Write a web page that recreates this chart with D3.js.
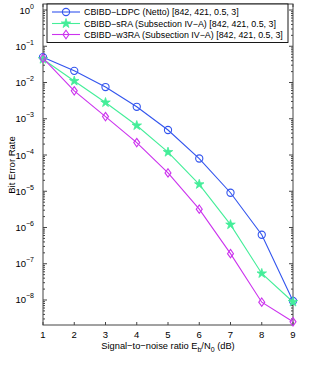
<!DOCTYPE html>
<html><head><meta charset="utf-8">
<script src="https://cdn.jsdelivr.net/npm/d3@7"></script>
<style>body{margin:0;background:#fff}svg{display:block}text{font-family:"Liberation Sans",Arial,sans-serif;fill:#000}</style>
</head><body><svg id="c" width="324" height="370"></svg>
<script>
const snr = [1,2,3,4,5,6,7,8,9];
const berLDPC = [0.050,0.021,0.0075,0.00214,4.9e-4,8.0e-5,9.1e-6,6.3e-7,9.4e-9];
const berSRA  = [0.044,0.011,0.0028,6.5e-4,1.2e-4,1.55e-5,1.2e-6,5.4e-8,8.8e-9];
const berW3RA = [0.047,0.0059,0.00115,2.2e-4,3.2e-5,3.2e-6,1.9e-7,8.7e-9,2.5e-9];
const seriesNames = ["CBIBD\u2212LDPC (Netto) [842, 421, 0.5, 3]","CBIBD\u2212sRA (Subsection IV\u2212A) [842, 421, 0.5, 3]","CBIBD\u2212w3RA (Subsection IV\u2212A) [842, 421, 0.5, 3]"];
const xTicks = [1,2,3,4,5,6,7,8,9];
const yTickExps = [0,-1,-2,-3,-4,-5,-6,-7,-8];

const svg = d3.select("#c");
const L=43, R=293, T=4, B=325;
const x = d3.scaleLinear().domain([1,9]).range([L,R]);
const y = d3.scaleLog().domain([Math.pow(10,-8.69), Math.pow(10,0.166)]).range([B,T]);
const axisCol = "#444";

svg.append("rect").attr("x",L).attr("y",T).attr("width",R-L).attr("height",B-T).attr("fill","none").attr("stroke",axisCol).attr("stroke-width",1);

xTicks.forEach(v=>{
  svg.append("line").attr("x1",x(v)).attr("x2",x(v)).attr("y1",B).attr("y2",B-3).attr("stroke",axisCol);
  svg.append("line").attr("x1",x(v)).attr("x2",x(v)).attr("y1",T).attr("y2",T+3).attr("stroke",axisCol);
  svg.append("text").attr("x",x(v)).attr("y",B+13).attr("text-anchor","middle").attr("font-size","9.5px").text(v);
});
const [ymin,ymax]=y.domain();
for(let e=-9;e<=0;e++){
  for(let m=1;m<=9;m++){
    const v=m*Math.pow(10,e);
    if(v<ymin||v>ymax) continue;
    const len = m===1?4:2;
    svg.append("line").attr("x1",L).attr("x2",L+len).attr("y1",y(v)).attr("y2",y(v)).attr("stroke",axisCol);
    svg.append("line").attr("x1",R).attr("x2",R-len).attr("y1",y(v)).attr("y2",y(v)).attr("stroke",axisCol);
  }
}
yTickExps.forEach(e=>{
  const t = svg.append("text").attr("x",34).attr("y",y(Math.pow(10,e))+3.5).attr("text-anchor","end").attr("font-size","9.5px");
  t.append("tspan").text("10");
  t.append("tspan").attr("dy",-5).attr("font-size","7px").text(e===0?"0":"\u2212"+(-e));
});
const xl = svg.append("text").attr("x",168).attr("y",349).attr("text-anchor","middle").attr("font-size","9.3px");
xl.append("tspan").text("Signal\u2212to\u2212noise ratio E");
xl.append("tspan").attr("dy",3).attr("font-size","7px").text("b");
xl.append("tspan").attr("dy",-3).text("/N");
xl.append("tspan").attr("dy",3).attr("font-size","7px").text("0");
xl.append("tspan").attr("dy",-3).text(" (dB)");
svg.append("text").attr("transform","translate(15,165) rotate(-90)").attr("text-anchor","middle").attr("font-size","9.5px").text("Bit Error Rate");

const colors=["#3355ee","#44ee99","#cc33ee"];
const data=[berLDPC,berSRA,berW3RA];
const star = d3.symbol().type(d3.symbolStar).size(28);
function marker(g,k,cx,cy,col){
  if(k===0) g.append("circle").attr("cx",cx).attr("cy",cy).attr("r",3.6).attr("fill","none").attr("stroke",col).attr("stroke-width",1.1);
  else if(k===1) g.append("path").attr("d",star).attr("transform",`translate(${cx},${cy})`).attr("fill",col).attr("stroke",col).attr("stroke-width",0.8);
  else g.append("path").attr("d",`M${cx},${cy-4.2}L${cx+3},${cy}L${cx},${cy+4.2}L${cx-3},${cy}Z`).attr("fill","none").attr("stroke",col).attr("stroke-width",1.1);
}
const line = d3.line().x((d,i)=>x(snr[i])).y(d=>y(d));
data.forEach((arr,k)=>{
  const g=svg.append("g");
  g.append("path").attr("d",line(arr)).attr("fill","none").attr("stroke",colors[k]).attr("stroke-width",1.1);
  arr.forEach((v,i)=>marker(g,k,x(snr[i]),y(v),colors[k]));
});

const lg=svg.append("g");
lg.append("rect").attr("x",47).attr("y",4).attr("width",241).attr("height",38.5).attr("fill","#fff").attr("stroke","#000").attr("stroke-width",0.9);
const ly=[12,23.5,34.5];
seriesNames.forEach((n,k)=>{
  lg.append("line").attr("x1",52).attr("x2",80).attr("y1",ly[k]).attr("y2",ly[k]).attr("stroke",colors[k]).attr("stroke-width",1.1);
  marker(lg,k,66,ly[k],colors[k]);
  lg.append("text").attr("x",84).attr("y",ly[k]+3.3).attr("font-size","8.9px").text(n);
});
</script></body></html>
